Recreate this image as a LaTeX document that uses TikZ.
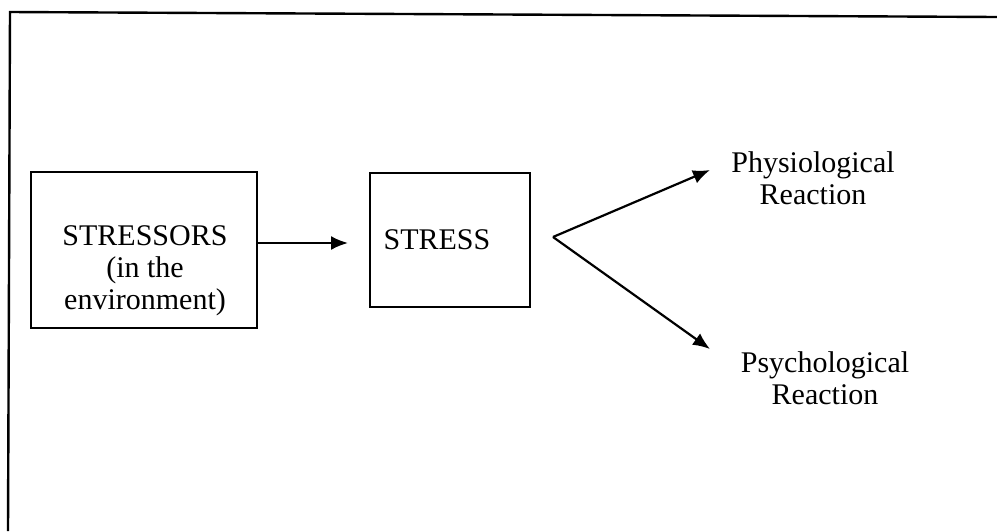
\documentclass[tikz,border=0pt]{standalone}
\usepackage{fontspec}
\setmainfont{Liberation Serif}
\usetikzlibrary{arrows.meta}
\begin{document}
\begin{tikzpicture}[x=1pt,y=-1pt,
  box/.style={draw=black,line width=2pt,inner sep=0pt},
  lbl/.style={font=\fontsize{30}{32}\selectfont,align=center,inner sep=0pt},
  conn/.style={line width=2.2pt,-{Latex[length=17pt,width=14pt]}}]
  \useasboundingbox (0,0) rectangle (997,531);
  % outer frame (only top and left edges fall inside the page)
  \draw[line width=2.4pt] (997,17) -- (10,12) -- (8,531);
  % boxes
  \node[box,minimum width=226pt,minimum height=156pt] (sors) at (144,250) {};
  \node[box,minimum width=160pt,minimum height=134pt] (stress) at (450,240) {};
  \node[lbl] (sorstext) at (145,271) {STRESSORS\\(in the\\environment)};
  \node[lbl] (stresstext) at (437,240) {STRESS};
  \node[lbl] (phys) at (813,178) {Physiological\\Reaction};
  \node[lbl] (psych) at (825,378) {Psychological\\Reaction};
  % connectors
  \coordinate (fork) at (553,237);
  \coordinate (tipA) at (710,170);
  \coordinate (tipB) at (710,349);
  \coordinate (tipS) at (348,243);
  \draw[conn] (sors.east |- tipS) -- (tipS);
  \draw[conn] (fork) -- (tipA);
  \draw[conn] (fork) -- (tipB);
\end{tikzpicture}
\end{document}
